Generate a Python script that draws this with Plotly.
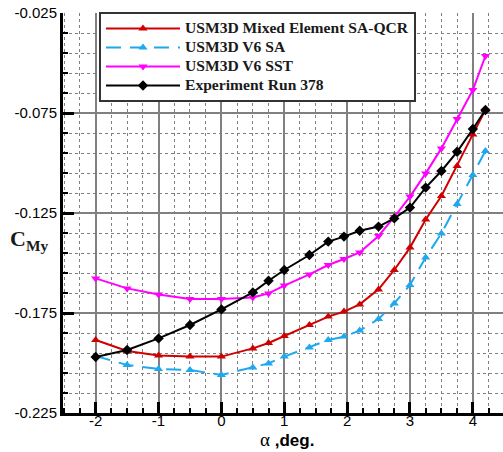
import plotly.graph_objects as go

alpha = [-2, -1.5, -1, -0.5, 0, 0.5, 0.75, 1, 1.4, 1.7, 1.95, 2.2, 2.5, 2.75, 3, 3.25, 3.5, 3.75, 4, 4.2]

cmy_qcr = [-0.1885, -0.194, -0.1963, -0.1968, -0.1968, -0.1927, -0.19, -0.1865, -0.181, -0.1768,
           -0.1743, -0.1707, -0.1632, -0.1535, -0.1423, -0.1282, -0.1165, -0.1015, -0.0857, -0.0735]
cmy_v6sa = [-0.1965, -0.201, -0.203, -0.2035, -0.206, -0.2022, -0.2002, -0.1968, -0.1922, -0.1885,
            -0.1868, -0.1838, -0.178, -0.1702, -0.161, -0.1472, -0.1352, -0.1205, -0.106, -0.094]
cmy_sst = [-0.1577, -0.1627, -0.1657, -0.168, -0.168, -0.1672, -0.1652, -0.1613, -0.1557, -0.151,
           -0.148, -0.1447, -0.1365, -0.127, -0.1168, -0.1052, -0.0927, -0.078, -0.0635, -0.0465]
cmy_exp = [-0.197, -0.1935, -0.1877, -0.181, -0.1732, -0.1647, -0.1589, -0.1535, -0.146, -0.1393,
           -0.1368, -0.1339, -0.1318, -0.1277, -0.1223, -0.1123, -0.104, -0.0944, -0.083, -0.0735]

names = ["USM3D Mixed Element SA-QCR", "USM3D V6 SA", "USM3D V6 SST", "Experiment Run 378"]
x_ticks = [-2, -1, 0, 1, 2, 3, 4]
y_ticks = [-0.225, -0.175, -0.125, -0.075, -0.025]


def legend_label(s):
    return "<span style='font-size:15.6px'>" + s + "</span>"


fig = go.Figure()
fig.add_trace(go.Scatter(x=alpha, y=cmy_qcr, name=legend_label(names[0]), mode="lines+markers",
                         line=dict(color="#d10000", width=2),
                         marker=dict(symbol="triangle-up", size=8, color="#d10000")))
fig.add_trace(go.Scatter(x=alpha, y=cmy_v6sa, name=legend_label(names[1]), mode="lines+markers",
                         line=dict(color="#1ea8f0", width=2, dash="15px,9px"),
                         marker=dict(symbol="triangle-up", size=8, color="#1ea8f0")))
fig.add_trace(go.Scatter(x=alpha, y=cmy_sst, name=legend_label(names[2]), mode="lines+markers",
                         line=dict(color="#ff00ff", width=2),
                         marker=dict(symbol="triangle-down", size=8, color="#ff00ff")))
fig.add_trace(go.Scatter(x=alpha, y=cmy_exp, name=legend_label(names[3]), mode="lines+markers",
                         line=dict(color="black", width=2),
                         marker=dict(symbol="diamond", size=8, color="black")))

axis_common = dict(
    showline=True, linecolor="black", linewidth=3, mirror=False,
    ticks="inside", ticklen=11, tickwidth=3, tickcolor="black",
    showgrid=True, gridcolor="#808080", gridwidth=1.5,
    zeroline=False,
    tickfont=dict(family="Liberation Sans", size=15, color="black"),
)

fig.update_xaxes(range=[-2.52, 4.48], tickvals=x_ticks, ticktext=[str(v) for v in x_ticks],
                 ticklabelstandoff=-8,
                 minor=dict(dtick=0.25, tick0=0, ticks="inside", ticklen=5, tickwidth=1.5,
                            tickcolor="black", showgrid=True, gridcolor="#808080",
                            gridwidth=1, griddash="dot"),
                 **axis_common)
fig.update_yaxes(range=[-0.225, -0.025], tickvals=y_ticks, ticktext=["%.3f" % v for v in y_ticks],
                 minor=dict(dtick=0.01, tick0=-0.025, ticks="inside", ticklen=5, tickwidth=1.5,
                            tickcolor="black", showgrid=True, gridcolor="#808080",
                            gridwidth=1, griddash="dot"),
                 **axis_common)

fig.update_layout(
    width=503, height=452,
    margin=dict(l=63, r=0, t=13, b=39),
    plot_bgcolor="white", paper_bgcolor="white",
    legend=dict(x=0.0818, y=1.0025, xanchor="left", yanchor="top",
                bgcolor="white", bordercolor="#333333", borderwidth=2,
                itemwidth=74,
                font=dict(family="Liberation Serif", size=12, weight="bold", color="#1a1a1a")),
    annotations=[
        dict(text="<b>C</b><sub><b>My</b></sub>", xref="paper", yref="paper",
             x=-0.0784, y=0.4325, xanchor="center", yanchor="middle", showarrow=False,
             font=dict(family="Liberation Serif", size=22, color="#1a1a1a")),
        dict(text="<span style='font-family:Liberation Serif;font-weight:normal;font-size:19px'>α</span>"
                  " <b>,deg.</b>",
             xref="paper", yref="paper", x=0.509, y=-0.0675, xanchor="center", yanchor="middle",
             showarrow=False, font=dict(family="Liberation Sans", size=17, color="black")),
    ],
)

fig.write_html("out.html")
